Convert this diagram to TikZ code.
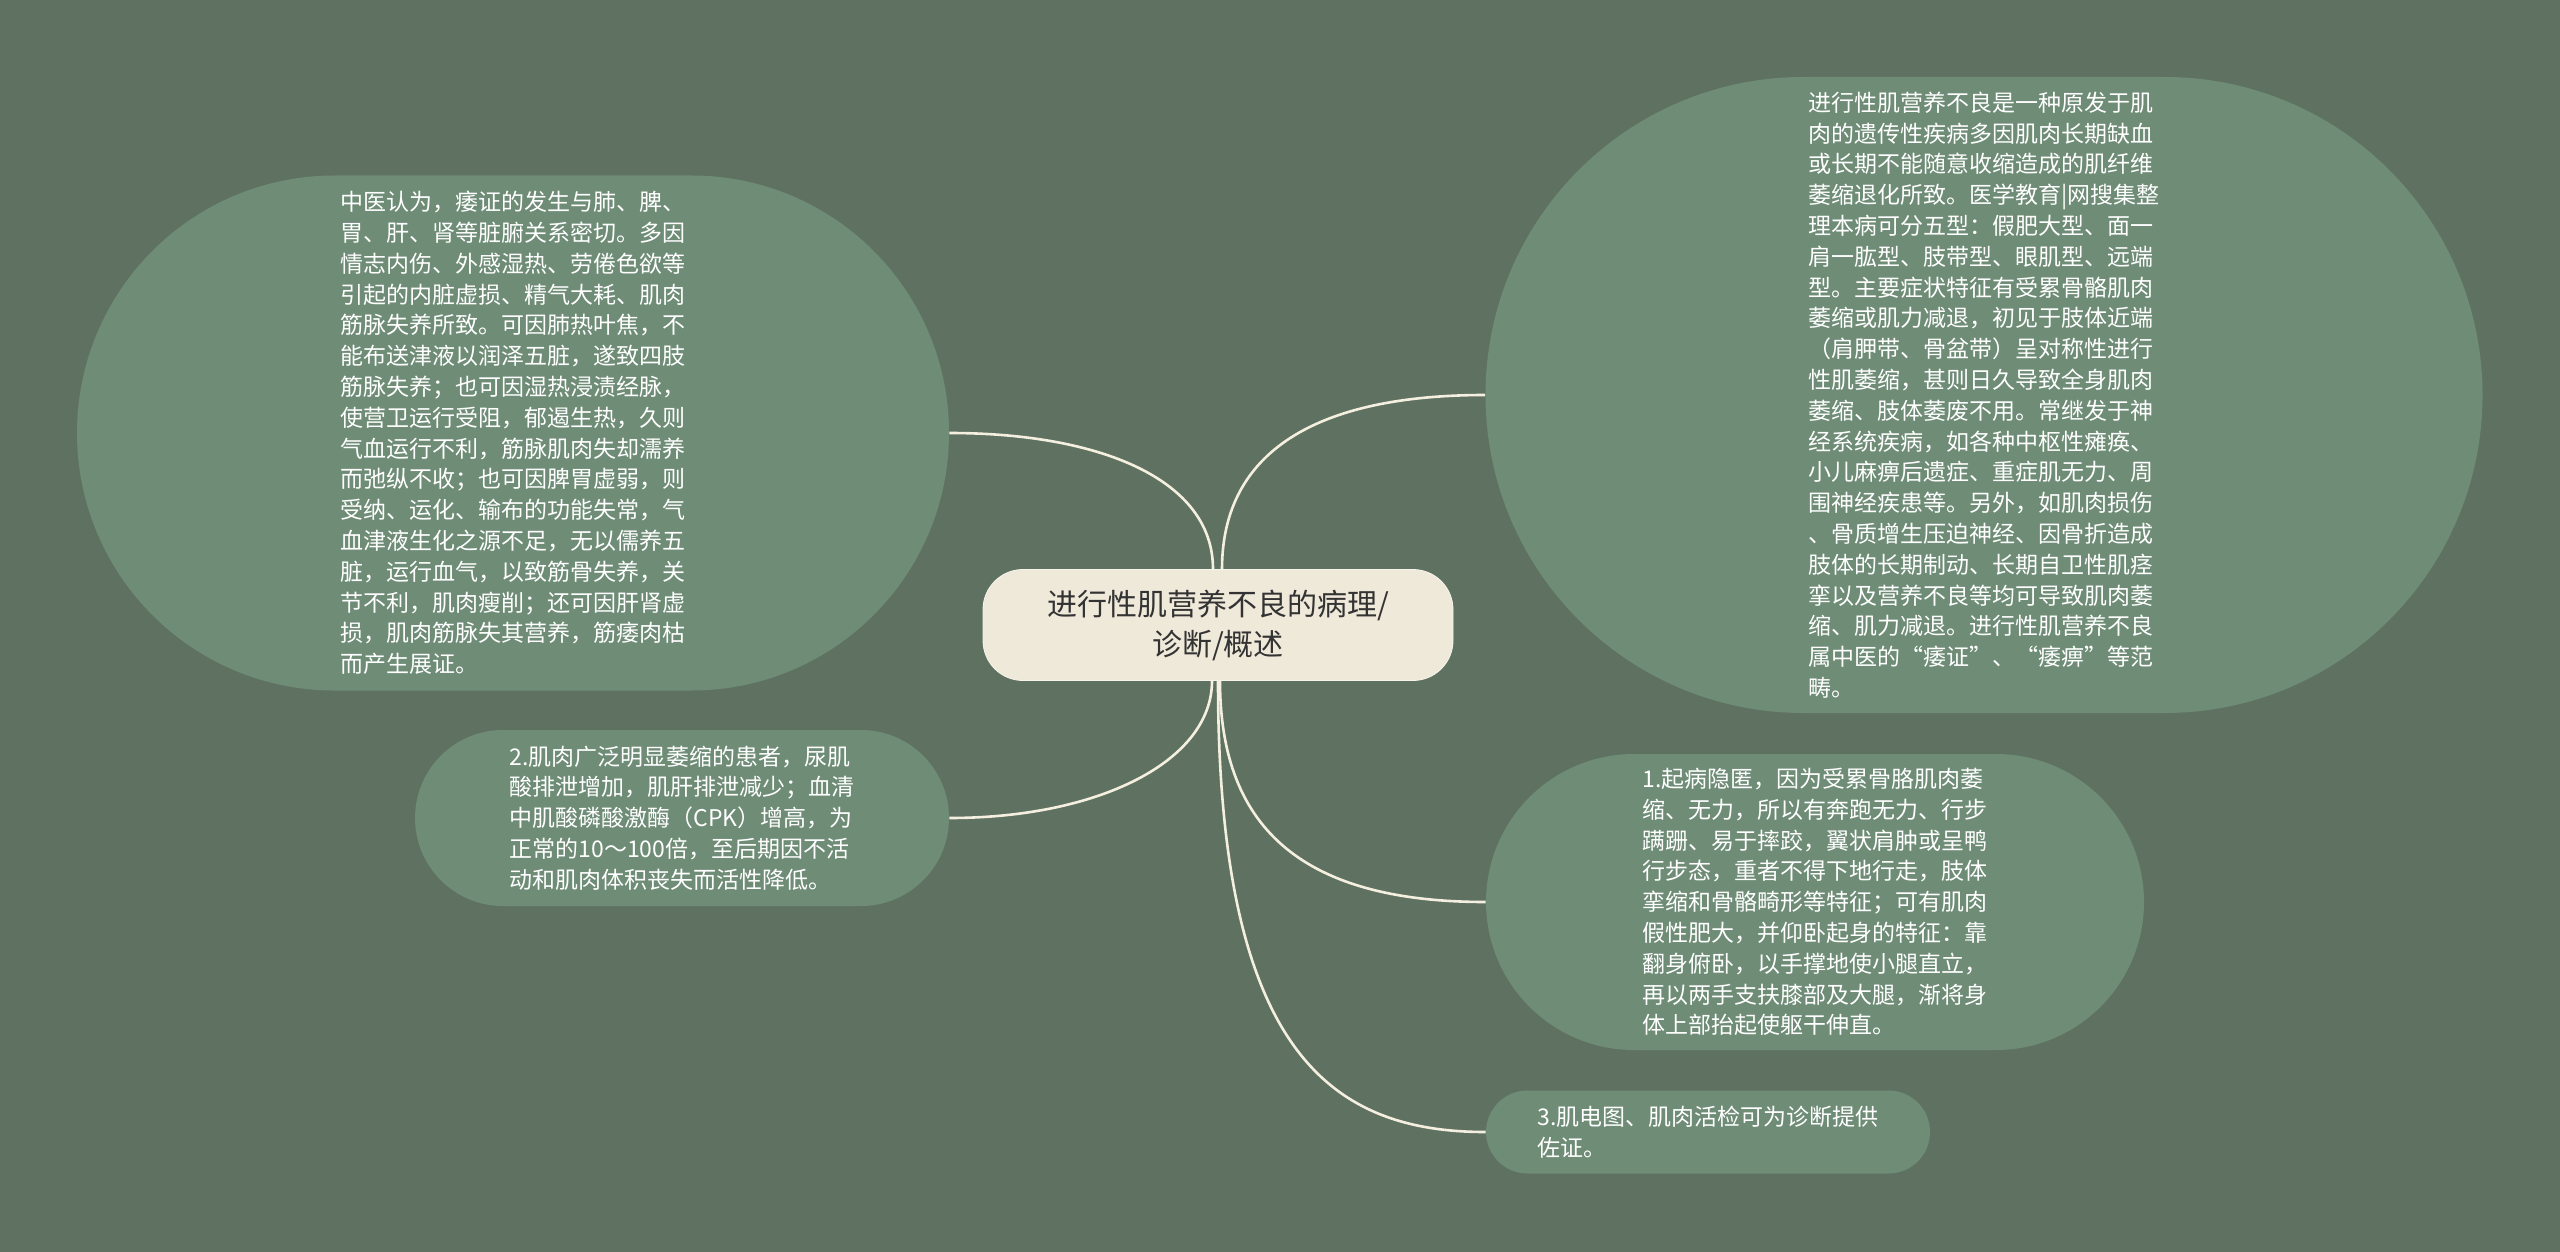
\documentclass[tikz,border=0pt]{standalone}
\usepackage{fontspec}
\setmainfont{Noto Sans CJK SC}
\usetikzlibrary{shapes.misc}
\definecolor{bggreen}{HTML}{5F7262}
\definecolor{leafgreen}{HTML}{6E8C76}
\definecolor{rootcream}{HTML}{EFE9DA}
\definecolor{linecream}{HTML}{F4EFDF}
\definecolor{roottext}{HTML}{333333}

\begin{document}
\begin{tikzpicture}[x=0.5pt,y=-0.5pt,
    leaf/.style={rounded rectangle, fill=leafgreen, text=white, align=left, inner sep=0pt,
        font=\fontsize{11.5pt}{15.4pt}\selectfont},
    topic/.style={rectangle, rounded corners=20pt, fill=rootcream, draw=white!50!rootcream,
        text=roottext, align=center, font=\fontsize{15pt}{20pt}\selectfont,
        minimum width=235pt, minimum height=55.5pt},
    link/.style={draw=linecream, line width=1.3pt}]
    \fill[bggreen] (0,0) rectangle (2560,1252);
    \useasboundingbox (0,0) rectangle (2560,1252);
    % central topic
    \node[topic] (root) at (1218,625) {进行性肌营养不良的病理/\\诊断/概述};
    % left side
    \node[leaf, minimum width=436pt, minimum height=257.5pt] (tcm) at (513,433) {中医认为，痿证的发生与肺、脾、\\胃、肝、肾等脏腑关系密切。多因\\情志内伤、外感湿热、劳倦色欲等\\引起的内脏虚损、精气大耗、肌肉\\筋脉失养所致。可因肺热叶焦，不\\能布送津液以润泽五脏，遂致四肢\\筋脉失养；也可因湿热浸渍经脉，\\使营卫运行受阻，郁遏生热，久则\\气血运行不利，筋脉肌肉失却濡养\\而弛纵不收；也可因脾胃虚弱，则\\受纳、运化、输布的功能失常，气\\血津液生化之源不足，无以儒养五\\脏，运行血气，以致筋骨失养，关\\节不利，肌肉瘦削；还可因肝肾虚\\损，肌肉筋脉失其营养，筋痿肉枯\\而产生展证。};
    \node[leaf, minimum width=267pt, minimum height=88pt] (lab) at (682,818) {2.肌肉广泛明显萎缩的患者，尿肌\\酸排泄增加，肌肝排泄减少；血清\\中肌酸磷酸激酶（CPK）增高，为\\正常的10～100倍，至后期因不活\\动和肌肉体积丧失而活性降低。};
    % right side
    \node[leaf, minimum width=498.5pt, minimum height=318pt] (intro) at (1984,395) {进行性肌营养不良是一种原发于肌\\肉的遗传性疾病多因肌肉长期缺血\\或长期不能随意收缩造成的肌纤维\\萎缩退化所致。医学教育|网搜集整\\理本病可分五型：假肥大型、面一\\肩一肱型、肢带型、眼肌型、远端\\型。主要症状特征有受累骨骼肌肉\\萎缩或肌力减退，初见于肢体近端\\（肩胛带、骨盆带）呈对称性进行\\性肌萎缩，甚则日久导致全身肌肉\\萎缩、肢体萎废不用。常继发于神\\经系统疾病，如各种中枢性瘫痪、\\小儿麻痹后遗症、重症肌无力、周\\围神经疾患等。另外，如肌肉损伤\\、骨质增生压迫神经、因骨折造成\\肢体的长期制动、长期自卫性肌痉\\挛以及营养不良等均可导致肌肉萎\\缩、肌力减退。进行性肌营养不良\\属中医的“痿证”、“痿痹”等范\\畴。};
    \node[leaf, minimum width=329pt, minimum height=148pt] (sym) at (1815,902) {1.起病隐匿，因为受累骨胳肌肉萎\\缩、无力，所以有奔跑无力、行步\\蹒跚、易于摔跤，翼状肩肿或呈鸭\\行步态，重者不得下地行走，肢体\\挛缩和骨骼畸形等特征；可有肌肉\\假性肥大，并仰卧起身的特征：靠\\翻身俯卧，以手撑地使小腿直立，\\再以两手支扶膝部及大腿，渐将身\\体上部抬起使躯干伸直。};
    \node[leaf, minimum width=222pt, minimum height=41.5pt] (emg) at (1708,1132) {3.肌电图、肌肉活检可为诊断提供\\佐证。};
    % connectors
    \draw[link] ([xshift=-2.5pt]root.north) .. controls +(0,-90) and +(150,0) .. (tcm.east);
    \draw[link] ([xshift=2pt]root.north) .. controls +(0,-110) and +(-180,0) .. (intro.west);
    \draw[link] ([xshift=-3pt]root.south) .. controls +(0,80) and +(150,0) .. (lab.east);
    \draw[link] ([xshift=1pt]root.south) .. controls +(0,150) and +(-180,0) .. (sym.west);
    \draw[link] ([xshift=0pt]root.south) .. controls +(0,368) and +(-157,0) .. (emg.west);
\end{tikzpicture}
\end{document}
